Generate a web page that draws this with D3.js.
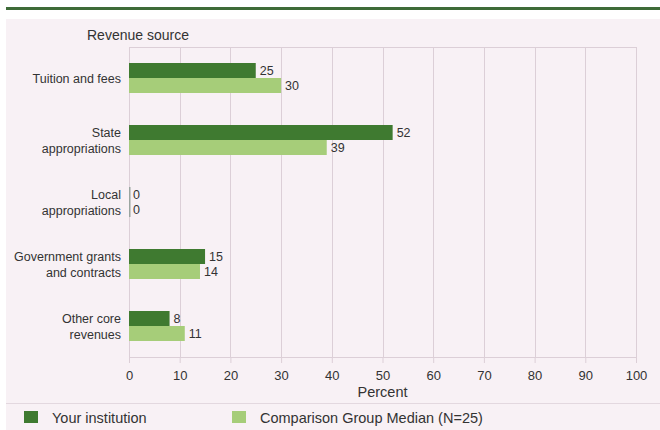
<!DOCTYPE html>
<html>
<head>
<meta charset="utf-8">
<script src="https://cdn.jsdelivr.net/npm/d3@7"></script>
<style>
  html, body { margin: 0; padding: 0; background: #ffffff; }
  svg { display: block; font-family: "Liberation Sans", Arial, sans-serif; }
</style>
</head>
<body>
<svg id="chart" width="660" height="430"></svg>
<script>
// Revenue sources, as a share of core revenues
const categories = [
  ["Tuition and fees"],
  ["State", "appropriations"],
  ["Local", "appropriations"],
  ["Government grants", "and contracts"],
  ["Other core", "revenues"]
];
const institutionValues = [25, 52, 0, 15, 8];
const comparisonValues = [30, 39, 0, 14, 11];
const seriesNames = ["Your institution", "Comparison Group Median (N=25)"];
const xTicks = [0, 10, 20, 30, 40, 50, 60, 70, 80, 90, 100];

const colors = { inst: "#3f7a30", comp: "#a6cd79" };
const textColor = "#333333";

const svg = d3.select("#chart");

// Page background and the header rule
svg.append("rect").attr("x", 0).attr("y", 0).attr("width", 660).attr("height", 430).attr("fill", "#ffffff");
svg.append("rect").attr("x", 6).attr("y", 7).attr("width", 654).attr("height", 3).attr("fill", "#3e6b38");
svg.append("rect").attr("x", 6).attr("y", 19).attr("width", 654).attr("height", 411).attr("fill", "#f8f1f5");
svg.append("line").attr("x1", 6).attr("x2", 660).attr("y1", 403.5).attr("y2", 403.5)
  .attr("stroke", "#e3d8df").attr("stroke-width", 1);

const margin = { left: 129, right: 636, top: 47, bottom: 357 };

const x = d3.scaleLinear().domain([0, 100]).range([margin.left, margin.right]);
const y = d3.scaleBand().domain(d3.range(categories.length)).range([margin.top, margin.bottom]);
const barH = 15;

// Vertical gridlines and plot frame
const gridColor = "#dccfd7";
svg.append("g").selectAll("line").data(xTicks).join("line")
  .attr("x1", d => Math.round(x(d)) + 0.5).attr("x2", d => Math.round(x(d)) + 0.5)
  .attr("y1", margin.top).attr("y2", margin.bottom)
  .attr("stroke", gridColor).attr("stroke-width", 1);
svg.append("line").attr("x1", margin.left).attr("x2", margin.right)
  .attr("y1", margin.top + 0.5).attr("y2", margin.top + 0.5)
  .attr("stroke", gridColor);

// Bottom axis
const xAxis = d3.axisBottom(x).tickValues(xTicks).tickSize(6).tickPadding(8).tickSizeOuter(0);
const axisG = svg.append("g").attr("transform", `translate(0,${margin.bottom})`).call(xAxis);
axisG.select(".domain").attr("stroke", gridColor);
axisG.selectAll(".tick line").attr("stroke", gridColor);
axisG.selectAll(".tick text").attr("fill", textColor).attr("font-size", 13)
  .attr("font-family", "Liberation Sans, Arial, sans-serif");

svg.append("text").attr("x", x(50)).attr("y", 397).attr("text-anchor", "middle")
  .attr("font-size", 14.5).attr("fill", textColor).text("Percent");

svg.append("text").attr("x", 87).attr("y", 40)
  .attr("font-size", 14).attr("fill", textColor).text("Revenue source");

// Category labels
const catG = svg.append("g").selectAll("text").data(categories).join("text")
  .attr("text-anchor", "end").attr("font-size", 12.5).attr("fill", textColor)
  .attr("x", 121);
catG.each(function (lines, i) {
  const cy = y(i) + y.bandwidth() / 2;
  const t = d3.select(this);
  const startY = cy - (lines.length - 1) * 16 / 2 + 5;
  lines.forEach((ln, k) => {
    t.append("tspan").attr("x", 121).attr("y", startY + k * 16).text(ln);
  });
});

// Bars
const bars = svg.append("g");
function drawSeries(values, color, offset) {
  bars.selectAll(null).data(values).join("rect")
    .attr("x", x(0))
    .attr("y", (d, i) => y(i) + y.bandwidth() / 2 - barH + offset)
    .attr("width", d => Math.max(x(d) - x(0), d === 0 ? 1.5 : 0))
    .attr("height", barH)
    .attr("fill", d => d === 0 ? "#9aa5a0" : color);
  bars.selectAll(null).data(values).join("text")
    .attr("x", d => x(d) + 4)
    .attr("y", (d, i) => y(i) + y.bandwidth() / 2 - barH / 2 + offset + 4.5)
    .attr("font-size", 12.5).attr("fill", textColor)
    .text(d => d);
}
drawSeries(institutionValues, colors.inst, 0);
drawSeries(comparisonValues, colors.comp, barH);

// Legend
const legend = svg.append("g");
const legendItems = [
  { name: seriesNames[0], color: colors.inst, x: 24 },
  { name: seriesNames[1], color: colors.comp, x: 232 }
];
legend.selectAll("rect").data(legendItems).join("rect")
  .attr("x", d => d.x).attr("y", 411).attr("width", 14).attr("height", 12)
  .attr("fill", d => d.color);
legend.selectAll("text").data(legendItems).join("text")
  .attr("x", d => d.x + 28).attr("y", 423)
  .attr("font-size", 14.5).attr("fill", textColor)
  .text(d => d.name);
</script>
</body>
</html>
